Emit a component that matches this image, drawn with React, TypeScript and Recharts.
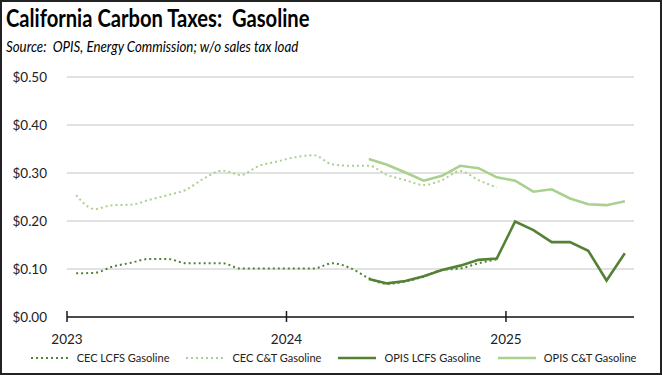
import { CartesianGrid, Line, LineChart, XAxis, YAxis } from "recharts";

const months = [
  "2023-01", "2023-02", "2023-03", "2023-04", "2023-05", "2023-06",
  "2023-07", "2023-08", "2023-09", "2023-10", "2023-11", "2023-12",
  "2024-01", "2024-02", "2024-03", "2024-04", "2024-05", "2024-06",
  "2024-07", "2024-08", "2024-09", "2024-10", "2024-11", "2024-12",
  "2025-01", "2025-02", "2025-03", "2025-04", "2025-05", "2025-06",
  "2025-07",
];

const cecLcfs = [
  0.091, 0.092, 0.105, 0.113, 0.121, 0.121, 0.112, 0.112, 0.112, 0.101,
  0.101, 0.101, 0.101, 0.101, 0.112, 0.102, 0.081, 0.069, 0.074, 0.084,
  0.098, 0.101, 0.112, 0.12,
];
const cecCt = [
  0.254, 0.225, 0.233, 0.234, 0.244, 0.254, 0.265, 0.289, 0.305, 0.296,
  0.315, 0.324, 0.333, 0.337, 0.318, 0.315, 0.315, 0.296, 0.285, 0.275,
  0.285, 0.304, 0.285, 0.27,
];
// OPIS series start May 2024
const opisStart = 16;
const opisLcfs = [
  0.079, 0.07, 0.075, 0.085, 0.098, 0.107, 0.119, 0.122, 0.199, 0.181,
  0.156, 0.156, 0.138, 0.076, 0.133,
];
const opisCt = [
  0.329, 0.317, 0.301, 0.284, 0.294, 0.315, 0.31, 0.291, 0.284, 0.261,
  0.266, 0.247, 0.235, 0.233, 0.241,
];

const yearTicks = [0, 12, 24];
const yearLabels = ["2023", "2024", "2025"];
const yTicks = [0, 0.1, 0.2, 0.3, 0.4, 0.5];

const DARK = "#548235";
const LIGHT = "#A9D18E";
const FONT = "Lato, 'Open Sans', sans-serif";

const series = [
  { key: "cecLcfs", name: "CEC LCFS Gasoline", color: DARK, dotted: true },
  { key: "cecCt", name: "CEC C&T Gasoline", color: LIGHT, dotted: true },
  { key: "opisLcfs", name: "OPIS LCFS Gasoline", color: DARK, dotted: false },
  { key: "opisCt", name: "OPIS C&T Gasoline", color: LIGHT, dotted: false },
];

const data = months.map((m, i) => ({
  month: m,
  x: i + 0.5,
  cecLcfs: i < cecLcfs.length ? cecLcfs[i] : null,
  cecCt: i < cecCt.length ? cecCt[i] : null,
  opisLcfs: i >= opisStart ? opisLcfs[i - opisStart] : null,
  opisCt: i >= opisStart ? opisCt[i - opisStart] : null,
}));

function YearTick(props: any) {
  const { x, y, payload } = props;
  const idx = yearTicks.indexOf(payload.value);
  return (
    <g>
      <line x1={x} x2={x} y1={y - 6} y2={y + 5} stroke="#1a1a1a" strokeWidth={1.5} />
      <text x={x} y={y + 27} textAnchor="middle" fontSize={13.5} fill="#222" fontFamily={FONT}>
        {yearLabels[idx]}
      </text>
    </g>
  );
}

export default function App() {
  return (
    <div
      style={{
        position: "absolute",
        left: 0,
        top: 0,
        width: 662,
        height: 375,
        boxSizing: "border-box",
        border: "2px solid #222",
        background: "#fff",
        fontFamily: FONT,
        overflow: "hidden",
      }}
    >
      <div
        style={{
          position: "absolute",
          left: 4,
          top: 1,
          fontSize: 24,
          fontWeight: 700,
          color: "#000",
          whiteSpace: "nowrap",
          transform: "scaleX(0.84)",
          transformOrigin: "left top",
        }}
      >
        California Carbon Taxes:&nbsp; Gasoline
      </div>
      <div
        style={{
          position: "absolute",
          left: 4,
          top: 34,
          fontSize: 16,
          fontStyle: "italic",
          color: "#000",
          whiteSpace: "nowrap",
          transform: "scaleX(0.83)",
          transformOrigin: "left top",
        }}
      >
        Source:&nbsp; OPIS, Energy Commission; w/o sales tax load
      </div>
      <div style={{ position: "absolute", left: -2, top: -2 }}>
        <LineChart
          width={662}
          height={375}
          data={data}
          margin={{ top: 77, right: 28, left: 17, bottom: 0 }}
        >
          <CartesianGrid vertical={false} stroke="#d9d9d9" strokeWidth={1.5} />
          <XAxis
            dataKey="x"
            type="number"
            domain={[0, months.length]}
            ticks={yearTicks}
            tick={<YearTick />}
            tickLine={false}
            tickSize={0}
            tickMargin={0}
            axisLine={{ stroke: "#1a1a1a", strokeWidth: 1.5 }}
            height={58}
            interval={0}
          />
          <YAxis
            domain={[0, 0.5]}
            ticks={yTicks}
            tickFormatter={(v: number) => `$${v.toFixed(2)}`}
            axisLine={false}
            tickLine={false}
            width={50}
            tickMargin={14}
            tick={{ fontSize: 13.5, fill: "#222", fontFamily: FONT }}
          />
          {series.map((s) => (
            <Line
              key={s.key}
              dataKey={s.key}
              name={s.name}
              type={s.dotted ? "monotone" : "linear"}
              stroke={s.color}
              strokeWidth={s.dotted ? 2 : 2.6}
              strokeDasharray={s.dotted ? "2 3" : undefined}
              dot={false}
              activeDot={false}
              isAnimationActive={false}
              connectNulls={false}
            />
          ))}
        </LineChart>
      </div>
      <div
        style={{
          position: "absolute",
          left: 0,
          width: 662,
          top: 349,
          display: "flex",
          justifyContent: "center",
          gap: 16,
          fontSize: 11,
          color: "#222",
        }}
      >
        {series.map((s) => (
          <div key={s.key} style={{ display: "flex", alignItems: "center", gap: 7 }}>
            <svg width={40} height={8}>
              <line
                x1={1}
                x2={39}
                y1={4}
                y2={4}
                stroke={s.color}
                strokeWidth={s.dotted ? 2 : 2.6}
                strokeDasharray={s.dotted ? "2 3" : undefined}
              />
            </svg>
            <span>{s.name}</span>
          </div>
        ))}
      </div>
    </div>
  );
}
